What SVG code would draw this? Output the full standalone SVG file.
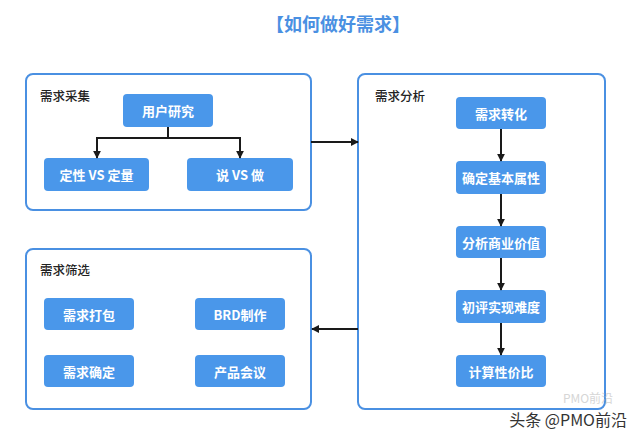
<svg xmlns="http://www.w3.org/2000/svg" width="640" height="435" viewBox="0 0 640 435">
<defs>
<marker id="arr" viewBox="0 0 10 10" refX="9" refY="5" markerWidth="8" markerHeight="8" markerUnits="userSpaceOnUse" orient="auto">
<path d="M0,0 L10,5 L0,10 z" fill="#1a1a1a"/>
</marker>
<style>
.grp{fill:#fff;stroke:#4a90e2;stroke-width:2}
.nd{fill:#4a97ea}
.nt{font-family:"Noto Sans CJK SC","Noto Sans",sans-serif;font-size:13px;font-weight:bold;fill:#fff;text-anchor:middle;dominant-baseline:central}
.gl{font-family:"Noto Sans CJK SC","Noto Sans",sans-serif;font-size:12.5px;font-weight:500;fill:#222}
.cn{fill:none;stroke:#1a1a1a;stroke-width:2;marker-end:url(#arr)}
</style>
</defs>
<rect width="640" height="435" fill="#fff"/>
<text x="338" y="23" font-family="'Noto Sans CJK SC','Noto Sans',sans-serif" font-size="18" font-weight="bold" fill="#4a90e2" text-anchor="middle" dominant-baseline="central">【如何做好需求】</text>

<g id="g-collect">
<rect class="grp" x="26" y="74" width="285" height="136" rx="7"/>
<text class="gl" x="40" y="101">需求采集</text>
</g>
<g id="n-yonghu"><rect class="nd" x="123" y="94" width="90" height="33" rx="4"/><text class="nt" x="168" y="110.5">用户研究</text></g>
<g id="n-dingxing"><rect class="nd" x="44" y="158" width="105" height="33" rx="4"/><text class="nt" x="96.5" y="174.5">定性 VS 定量</text></g>
<g id="n-shuo"><rect class="nd" x="187" y="158" width="106" height="33" rx="4"/><text class="nt" x="240" y="174.5">说 VS 做</text></g>

<g id="g-analysis">
<rect class="grp" x="358" y="74" width="247" height="335" rx="7"/>
<text class="gl" x="375" y="101">需求分析</text>
</g>
<g id="n-zhuanhua"><rect class="nd" x="456" y="97" width="90" height="32" rx="4"/><text class="nt" x="501" y="113">需求转化</text></g>
<g id="n-shuxing"><rect class="nd" x="456" y="161" width="90" height="33" rx="4"/><text class="nt" x="501" y="177.5">确定基本属性</text></g>
<g id="n-jiazhi"><rect class="nd" x="456" y="226" width="90" height="32" rx="4"/><text class="nt" x="501" y="242">分析商业价值</text></g>
<g id="n-nandu"><rect class="nd" x="456" y="290" width="90" height="33" rx="4"/><text class="nt" x="501" y="306.5">初评实现难度</text></g>
<g id="n-xingjiabi"><rect class="nd" x="456" y="355" width="90" height="32" rx="4"/><text class="nt" x="501" y="371">计算性价比</text></g>

<g id="g-filter">
<rect class="grp" x="26" y="249" width="285" height="160" rx="7"/>
<text class="gl" x="40" y="275">需求筛选</text>
</g>
<g id="n-dabao"><rect class="nd" x="44" y="298" width="90" height="32" rx="4"/><text class="nt" x="89" y="314">需求打包</text></g>
<g id="n-brd"><rect class="nd" x="195" y="298" width="90" height="32" rx="4"/><text class="nt" x="240" y="314">BRD制作</text></g>
<g id="n-queding"><rect class="nd" x="44" y="355" width="90" height="32" rx="4"/><text class="nt" x="89" y="371">需求确定</text></g>
<g id="n-huiyi"><rect class="nd" x="195" y="355" width="90" height="32" rx="4"/><text class="nt" x="240" y="371">产品会议</text></g>

<g id="connectors">
<path d="M168,127 V138" fill="none" stroke="#1a1a1a" stroke-width="2"/>
<path class="cn" d="M168,138 H97 V158"/>
<path class="cn" d="M168,138 H240 V158"/>
<path class="cn" d="M311,142 H358"/>
<path class="cn" d="M501,129 V161"/>
<path class="cn" d="M501,194 V226"/>
<path class="cn" d="M501,258 V290"/>
<path class="cn" d="M501,323 V355"/>
<path class="cn" d="M358,329 H312"/>
</g>

<text x="588" y="403" font-family="'Noto Sans CJK SC','Noto Sans',sans-serif" font-size="12" fill="#bbb" opacity="0.6" text-anchor="middle">PMO前沿</text>
<text x="627" y="419" font-family="'Noto Sans CJK SC','Noto Sans',sans-serif" font-size="16" fill="#333" text-anchor="end" dominant-baseline="central">头条 @PMO前沿</text>
</svg>
